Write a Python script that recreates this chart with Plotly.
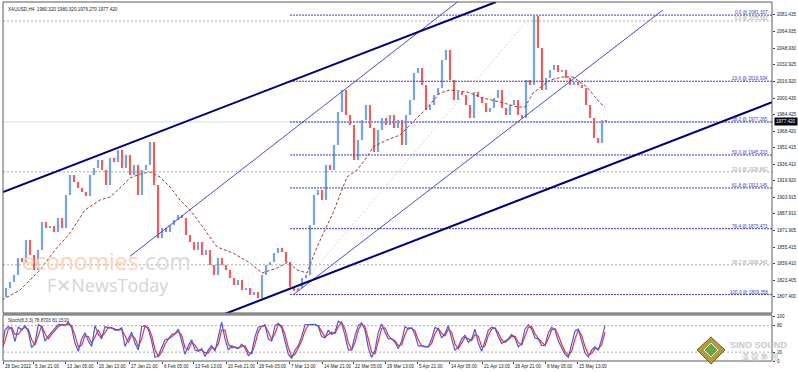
import plotly.graph_objects as go

# ---------------- data ----------------
title_text = "XAUUSD,H4  1980.320 1980.320 1976.270 1977.420"
bar_step = 4  # closes sampled every 4 H4 bars
first_open = 1804.0
closes = [
    1807.0, 1815.8, 1821.6, 1828.4, 1845.0, 1841.1, 1862.5, 1847.9, 1833.3, 1852.8,
    1880.0, 1874.2, 1876.1, 1870.3, 1883.9, 1874.2, 1906.3, 1925.7, 1918.9, 1913.1,
    1909.2, 1905.3, 1925.7, 1932.5, 1940.3, 1930.6, 1916.0, 1942.3, 1938.4, 1950.0,
    1932.5, 1945.2, 1925.7, 1935.5, 1906.3, 1930.6, 1935.5, 1957.8, 1916.0, 1864.4,
    1874.2, 1870.3, 1877.1, 1881.9, 1886.8, 1883.9, 1867.3, 1860.5, 1852.8, 1860.5,
    1847.9, 1852.8, 1838.2, 1828.4, 1845.0, 1838.2, 1833.3, 1825.5, 1818.7, 1823.6,
    1813.8, 1815.8, 1809.0, 1811.9, 1806.0, 1828.4, 1838.2, 1841.1, 1849.8, 1854.7,
    1850.8, 1841.1, 1816.7, 1812.9, 1815.8, 1825.5, 1828.4, 1877.1, 1906.3, 1911.1,
    1901.4, 1935.5, 1930.6, 1954.9, 1987.0, 2008.4, 1984.1, 1974.4, 1940.3, 1959.8,
    1979.2, 1993.8, 1971.5, 1948.1, 1969.5, 1981.2, 1974.4, 1984.1, 1971.5, 1979.2,
    1954.9, 1984.1, 1998.7, 2025.0, 2029.8, 2013.3, 1989.0, 1993.8, 2003.6, 2010.4,
    2037.6, 2047.4, 2018.2, 1998.7, 2006.5, 2003.6, 1993.8, 1981.2, 2006.5, 2001.6,
    1995.8, 1987.0, 1990.9, 2000.6, 2008.4, 1990.9, 1984.1, 1993.8, 1998.7, 1984.1,
    1981.2, 2018.2, 2013.3, 2080.5, 2049.3, 2008.4, 2020.1, 2027.9, 2032.8, 2025.9,
    2027.9, 2020.1, 2013.3, 2016.2, 2013.3, 2010.4, 1993.8, 1981.2, 1961.7, 1956.9,
    1979.2, 1977.4,
]

ma_bars = [2, 20, 40, 55, 70, 85, 100, 110, 120, 130, 140, 150, 160, 170, 180, 190, 200,
           217, 233, 250, 262, 277, 288, 297, 307, 317, 333, 347, 357, 367, 373, 387, 400,
           410, 425, 440, 450, 467, 483, 500, 517, 525, 533, 550, 563, 573, 587, 600, 605]
ma_vals = [1804.1, 1813.8, 1833.3, 1852.8, 1869.3, 1891.7, 1901.4, 1904.3, 1913.1, 1922.8,
           1926.7, 1928.6, 1923.8, 1914.0, 1901.4, 1891.7, 1879.0, 1855.7, 1849.8, 1840.1,
           1830.4, 1835.2, 1841.1, 1833.3, 1830.4, 1855.7, 1888.8, 1923.8, 1930.6, 1943.2,
           1953.0, 1959.8, 1964.6, 1974.4, 1989.0, 2005.5, 2008.4, 2006.5, 2000.6, 1996.8,
           1991.9, 1991.9, 2005.5, 2018.2, 2021.1, 2021.1, 2011.3, 1995.8, 1991.9]

stoch_step = 10 / 3
stoch_main = [21, 70, 78, 72, 44, 77, 70, 80, 66, 30, 40, 82, 78, 45, 56, 65, 72, 83, 82, 80,
              88, 75, 40, 22, 50, 64, 45, 33, 80, 60, 50, 78, 75, 75, 70, 70, 75, 33, 50, 65,
              40, 25, 78, 80, 72, 45, 8, 12, 30, 48, 50, 60, 62, 72, 45, 15, 35, 48, 25, 22,
              28, 10, 25, 35, 22, 55, 88, 50, 25, 35, 30, 28, 38, 30, 12, 20, 55, 77, 78, 82,
              50, 45, 80, 85, 75, 45, 15, 6, 25, 35, 55, 82, 82, 82, 83, 78, 55, 52, 70, 60,
              65, 90, 85, 58, 25, 25, 58, 80, 86, 70, 30, 8, 25, 65, 84, 65, 50, 50, 42, 28,
              45, 78, 72, 75, 60, 34, 34, 32, 32, 50, 76, 72, 52, 62, 80, 50, 24, 32, 50, 58,
              42, 50, 72, 40, 22, 45, 70, 76, 74, 55, 40, 45, 50, 60, 52, 32, 40, 72, 82, 72,
              52, 50, 35, 35, 64, 76, 70, 45, 30, 15, 8, 35, 68, 72, 45, 18, 9, 25, 32, 24,
              50, 80]
stoch_signal = [25, 45, 72, 76, 60, 60, 72, 76, 72, 48, 36, 60, 80, 62, 50, 60, 68, 78, 82, 81,
                84, 80, 58, 32, 36, 57, 55, 40, 55, 70, 55, 64, 76, 75, 72, 70, 72, 55, 42, 58,
                52, 32, 50, 79, 76, 58, 26, 10, 20, 38, 50, 55, 61, 67, 58, 30, 25, 42, 36, 24,
                25, 19, 18, 30, 28, 38, 70, 70, 38, 30, 32, 29, 33, 34, 20, 16, 38, 66, 78, 80,
                66, 48, 62, 82, 80, 60, 30, 10, 15, 30, 45, 68, 82, 82, 82, 80, 66, 54, 60, 65,
                62, 78, 88, 72, 42, 25, 42, 70, 84, 78, 50, 20, 16, 45, 74, 75, 58, 50, 46, 35,
                36, 60, 75, 74, 68, 48, 34, 33, 32, 40, 62, 74, 62, 57, 72, 65, 38, 28, 40, 54,
                50, 46, 60, 56, 32, 34, 58, 72, 75, 64, 48, 42, 48, 55, 56, 42, 36, 56, 76, 78,
                62, 51, 42, 35, 50, 70, 73, 58, 38, 22, 12, 22, 50, 70, 58, 32, 14, 17, 28, 28,
                37, 65]
stoch_label = "Stoch(8,3,3) 78.8703 81.1510"
stoch_ticks = [100, 80, 20, 0]

price_ticks = [2081.435, 2064.935, 2048.930, 2032.925, 2016.920, 2000.430, 1984.425,
               1968.420, 1952.415, 1936.410, 1919.920, 1903.915, 1887.910, 1871.905,
               1855.415, 1839.410, 1823.405, 1807.400, 1791.395]
last_price = 1977.420

date_bars = [3, 33, 65, 97, 129, 162, 193, 226, 257, 289, 322, 353, 385, 417, 449, 482, 513, 545, 577]
date_labels = ["28 Dec 2022", "5 Jan 21:00", "13 Jan 05:00", "20 Jan 13:00", "27 Jan 21:00",
               "6 Feb 05:00", "13 Feb 13:00", "20 Feb 21:00", "28 Feb 05:00", "7 Mar 13:00",
               "14 Mar 21:00", "22 Mar 05:00", "29 Mar 13:00", "5 Apr 21:00", "14 Apr 05:00",
               "21 Apr 13:00", "28 Apr 21:00", "8 May 05:00", "15 May 13:00"]

fib_main_levels = ["0.0", "23.6", "38.2", "50.0", "61.8", "76.4", "100.0"]
fib_main_prices = [2081.307, 2016.934, 1977.265, 1945.203, 1913.145, 1873.473, 1809.358]
fib_main_start_bar = 290
fib_old_levels = ["0.0", "23.6", "38.2"]
fib_old_prices = [2075.562, 1928.882, 1838.343]

# trend lines: (bar, price) endpoints
channel_thick = [((3, 1909.2), (496, 2094.1)), ((200, 1781.2), (772, 1996.5))]
channel_thin = [((130, 1846.6), (470, 2103.6)), ((293, 1808.96), (663, 2086.3))]
fib_diag = ((293, 1809.36), (532, 2081.3))

# ---------------- figure ----------------
X0, X1 = 3, 772
W, H = 798, 372
ML, MR, MT, MB = 3, 26, 2, 11
plot_h = H - MT - MB


def py(img_y):
    return (H - MB - img_y) / plot_h


main_dom = [py(313), 1.0]
sto_dom = [0.0, py(315)]

UP = "#76a5d8"
DOWN = "#f25c5c"
NAVY = "#00007f"
THIN = "#4a4ad0"
FIBC = "#3c3cb4"
TXT = "#222222"
FONT = "Liberation Sans"
FS = 4.6

fig = go.Figure()

opens = [first_open] + closes[:-1]
bars_x = [i * bar_step + 2 for i in range(len(closes))]
fig.add_trace(go.Ohlc(
    x=bars_x, open=opens, close=closes,
    high=[max(o, c) for o, c in zip(opens, closes)],
    low=[min(o, c) for o, c in zip(opens, closes)],
    increasing=dict(line=dict(color=UP, width=2.2)),
    decreasing=dict(line=dict(color=DOWN, width=2.2)),
    tickwidth=0, xaxis="x", yaxis="y", hoverinfo="skip",
))

fig.add_trace(go.Scatter(x=ma_bars, y=ma_vals, mode="lines",
                         line=dict(color="#9b3b32", width=1, dash="3px,2px"),
                         xaxis="x", yaxis="y", hoverinfo="skip"))

# horizontal level lines
fig.add_trace(go.Scatter(x=[X0, X1], y=[last_price, last_price], mode="lines",
                         line=dict(color="#bfe6ee", width=1), yaxis="y", hoverinfo="skip"))
for p in fib_old_prices:
    fig.add_trace(go.Scatter(x=[X0, X1], y=[p, p], mode="lines",
                             line=dict(color="#a8a8a8", width=1, dash="2px,2px"),
                             yaxis="y", hoverinfo="skip"))
for p in fib_main_prices:
    fig.add_trace(go.Scatter(x=[fib_main_start_bar, X1], y=[p, p], mode="lines",
                             line=dict(color=FIBC, width=1, dash="2px,1px"),
                             yaxis="y", hoverinfo="skip"))

fig.add_trace(go.Scatter(x=[fib_diag[0][0], fib_diag[1][0]], y=[fib_diag[0][1], fib_diag[1][1]],
                         mode="lines", line=dict(color="#d9cfe0", width=1, dash="2px,2px"),
                         yaxis="y", hoverinfo="skip"))
for a, b in channel_thin:
    fig.add_trace(go.Scatter(x=[a[0], b[0]], y=[a[1], b[1]], mode="lines",
                             line=dict(color=THIN, width=1), yaxis="y", hoverinfo="skip"))
for a, b in channel_thick:
    fig.add_trace(go.Scatter(x=[a[0], b[0]], y=[a[1], b[1]], mode="lines",
                             line=dict(color=NAVY, width=2), yaxis="y", hoverinfo="skip"))

# stochastic
sx_main = [5 / 3 + i * stoch_step for i in range(len(stoch_main))]
sx_sig = [5 / 3 + i * stoch_step for i in range(len(stoch_signal))]
for lvl in (80, 20):
    fig.add_trace(go.Scatter(x=[X0, X1], y=[lvl, lvl], mode="lines",
                             line=dict(color="#b0b0b0", width=1, dash="2px,2px"),
                             yaxis="y2", hoverinfo="skip"))
fig.add_trace(go.Scatter(x=sx_sig, y=stoch_signal, mode="lines",
                         line=dict(color="#f03030", width=1.2), yaxis="y2", hoverinfo="skip"))
fig.add_trace(go.Scatter(x=sx_main, y=stoch_main, mode="lines",
                         line=dict(color="#4a5ad8", width=1.2), yaxis="y2", hoverinfo="skip"))

annotations = []
annotations.append(dict(x=0.004, y=1.0, xref="paper", yref="paper", text=title_text,
                        showarrow=False, xanchor="left", yanchor="top",
                        font=dict(size=FS, color=TXT, family=FONT), yshift=-3))
annotations.append(dict(x=0.004, y=sto_dom[1], xref="paper", yref="paper", text=stoch_label,
                        showarrow=False, xanchor="left", yanchor="top",
                        font=dict(size=FS, color=TXT, family=FONT), yshift=-1))
for lv, p in zip(fib_main_levels, fib_main_prices):
    annotations.append(dict(x=770, y=p, xref="x", yref="y", text=f"{lv} @ {p:.3f}",
                            showarrow=False, xanchor="right", yanchor="bottom",
                            font=dict(size=FS, color=FIBC, family=FONT), yshift=-2))
for lv, p in zip(fib_old_levels, fib_old_prices):
    annotations.append(dict(x=770, y=p, xref="x", yref="y", text=f"{lv} @ {p:.3f}",
                            showarrow=False, xanchor="right", yanchor="bottom",
                            font=dict(size=FS, color="#a0a0a0", family=FONT), yshift=-2))
# price axis labels
for t in price_ticks:
    annotations.append(dict(x=1.0, y=t, xref="paper", yref="y", text=f"{t:.3f}",
                            showarrow=False, xanchor="left", yanchor="middle", xshift=3,
                            font=dict(size=FS, color=TXT, family=FONT)))
for t in stoch_ticks:
    annotations.append(dict(x=1.0, y=t, xref="paper", yref="y2", text=str(t),
                            showarrow=False, xanchor="left", yanchor="middle", xshift=3,
                            font=dict(size=FS, color=TXT, family=FONT)))
annotations.append(dict(x=1.0, y=last_price, xref="paper", yref="y", text=f"{last_price:.3f}",
                        showarrow=False, xanchor="left", yanchor="middle", bgcolor="#000000",
                        font=dict(size=FS, color="#ffffff", family=FONT), xshift=2,
                        borderpad=1))
# date labels
for b, lab in zip(date_bars, date_labels):
    annotations.append(dict(x=b, y=0, xref="x", yref="paper", text=lab, showarrow=False,
                            xanchor="left", yanchor="top", yshift=-1,
                            font=dict(size=FS, color=TXT, family=FONT)))
# watermarks
annotations.append(dict(x=106, y=1862, xref="x", yref="y",
                        text='<span style="color:#fdd3b3">economies</span><span style="color:#d9d9d9">.com</span>',
                        showarrow=False, font=dict(size=23, family="Open Sans"),
                        xanchor="center", yanchor="middle", yshift=-(261 - 240)))
annotations.append(dict(x=108, y=1862, xref="x", yref="y", text="F\u2715NewsToday",
                        showarrow=False, font=dict(size=18, color="#d4d4d4", family="Open Sans"),
                        xanchor="center", yanchor="middle", yshift=-(285 - 240)))
annotations.append(dict(x=759, y=py(345), xref="x", yref="paper", text="<b>SINO SOUND</b>",
                        showarrow=False, font=dict(size=9, color="#c8c8c8", family="Liberation Sans"),
                        xanchor="center", yanchor="middle"))
annotations.append(dict(x=759, y=py(356), xref="x", yref="paper", text="漢 聲 集 團",
                        showarrow=False, font=dict(size=8, color="#c8c8c8", family="Noto Sans CJK TC"),
                        xanchor="center", yanchor="middle"))

shapes = []
shapes.append(dict(type="rect", xref="paper", yref="paper", x0=0, x1=1, y0=main_dom[0], y1=1,
                   line=dict(color="#5a5a5a", width=1)))
shapes.append(dict(type="rect", xref="paper", yref="paper", x0=0, x1=1, y0=0, y1=sto_dom[1],
                   line=dict(color="#5a5a5a", width=1)))
shapes.append(dict(type="rect", xref="paper", yref="paper", x0=0, x1=1, y0=sto_dom[1], y1=main_dom[0],
                   line=dict(width=0), fillcolor="#8a8a8a"))
# logo diamond
shapes.append(dict(type="path", xref="x", yref="paper",
                   path=f"M 711,{py(337)} L 725,{py(350)} L 711,{py(364)} L 697,{py(350)} Z",
                   fillcolor="#b39a3a", line=dict(color="#6f5f20", width=1)))
shapes.append(dict(type="path", xref="x", yref="paper",
                   path=f"M 711,{py(343)} L 718,{py(350)} L 711,{py(357)} L 704,{py(350)} Z",
                   fillcolor="#62a845", line=dict(color="#f0f0f0", width=1)))

fig.update_layout(
    width=W, height=H, margin=dict(l=ML, r=MR, t=MT, b=MB),
    paper_bgcolor="white", plot_bgcolor="white", showlegend=False,
    xaxis=dict(range=[X0, X1], domain=[0, 1], anchor="y2", showgrid=False, zeroline=False,
               rangeslider=dict(visible=False), tickmode="array", tickvals=date_bars,
               showticklabels=False, ticks="outside", ticklen=2, tickcolor="#444",
               fixedrange=True),
    yaxis=dict(domain=main_dom, range=[1791.45, 2094.05], side="right", showgrid=False,
               zeroline=False, tickmode="array", tickvals=price_ticks, showticklabels=False,
               ticks="outside", ticklen=2, tickcolor="#444", anchor="x"),
    yaxis2=dict(domain=sto_dom, range=[0, 104], side="right", showgrid=False, zeroline=False,
                tickmode="array", tickvals=stoch_ticks, showticklabels=False,
                ticks="outside", ticklen=2, tickcolor="#444", anchor="x"),
    annotations=annotations, shapes=shapes,
)

fig.write_html("out.html", config={"displayModeBar": False},
               post_script="document.body.style.margin='0px';")
